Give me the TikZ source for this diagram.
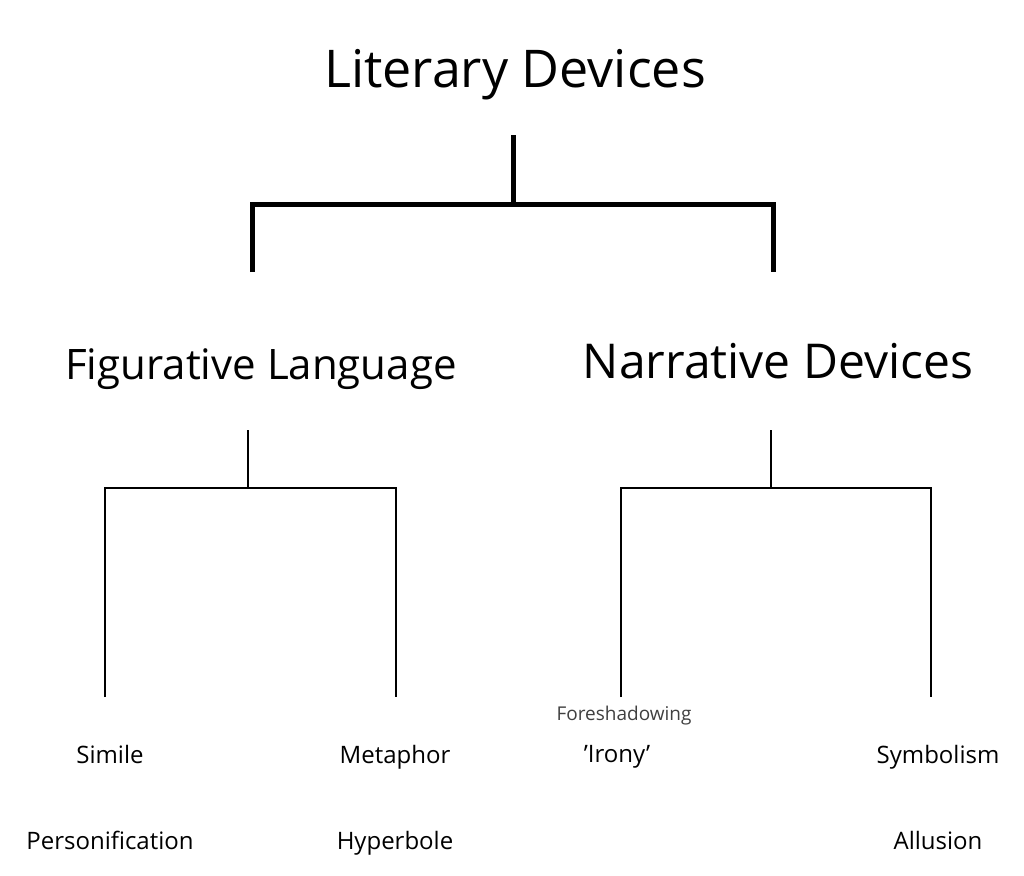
\documentclass[tikz,border=0pt]{standalone}
\usepackage{fontspec}
\setmainfont{Open Sans}
\begin{document}
\begin{tikzpicture}[x=1pt,y=-1pt,
  thick line/.style={line width=5pt},
  thin line/.style={line width=1.4pt},
  leaf/.style={font=\fontsize{24}{28}\selectfont, inner sep=0pt, anchor=base}]
\useasboundingbox (0,0) rectangle (1024,875);
\node[inner sep=0pt,anchor=base,font=\fontsize{52}{60}\selectfont] (root) at (515,87) {Literary Devices};
\node[inner sep=0pt,anchor=base,font=\fontsize{42}{50}\selectfont] (fig) at (261,379) {Figurative Language};
\node[inner sep=0pt,anchor=base,font=\fontsize{48}{56}\selectfont] (nar) at (778,378) {Narrative Devices};
\coordinate (r0) at (513,135); \coordinate (r1) at (513,204);
\coordinate (rl) at (252,204); \coordinate (rr) at (773,204);
\coordinate (rl2) at (252,272); \coordinate (rr2) at (773,272);
\draw[thick line] (r0) -- (r1);
\draw[thick line,line join=miter] (rl2) -- (rl) -- (rr) -- (rr2);
\coordinate (f0) at (248,430); \coordinate (f1) at (248,488);
\coordinate (fl) at (105,488); \coordinate (fr) at (396,488);
\coordinate (fl2) at (105,697); \coordinate (fr2) at (396,697);
\draw[thin line] (f0) -- (f1);
\draw[thin line] (fl2) -- (fl) -- (fr) -- (fr2);
\coordinate (n0) at (771,430); \coordinate (n1) at (771,488);
\coordinate (nl) at (621,488); \coordinate (nr) at (931,488);
\coordinate (nl2) at (621,697); \coordinate (nr2) at (931,697);
\draw[thin line] (n0) -- (n1);
\draw[thin line] (nl2) -- (nl) -- (nr) -- (nr2);
\node[leaf] (simile) at (110,763) {Simile};
\node[leaf] (meta) at (395,763) {Metaphor};
\node[leaf] (pers) at (110,849) {Personification};
\node[leaf] (hyp) at (395,849) {Hyperbole};
\node[inner sep=0pt,anchor=base,font=\fontsize{19}{22}\selectfont,text=black!75] (fore) at (624,720) {Foreshadowing};
\node[leaf] (irony) at (617,762) {'Irony'};
\node[leaf] (sym) at (938,763) {Symbolism};
\node[leaf] (all) at (938,849) {Allusion};
\end{tikzpicture}
\end{document}
